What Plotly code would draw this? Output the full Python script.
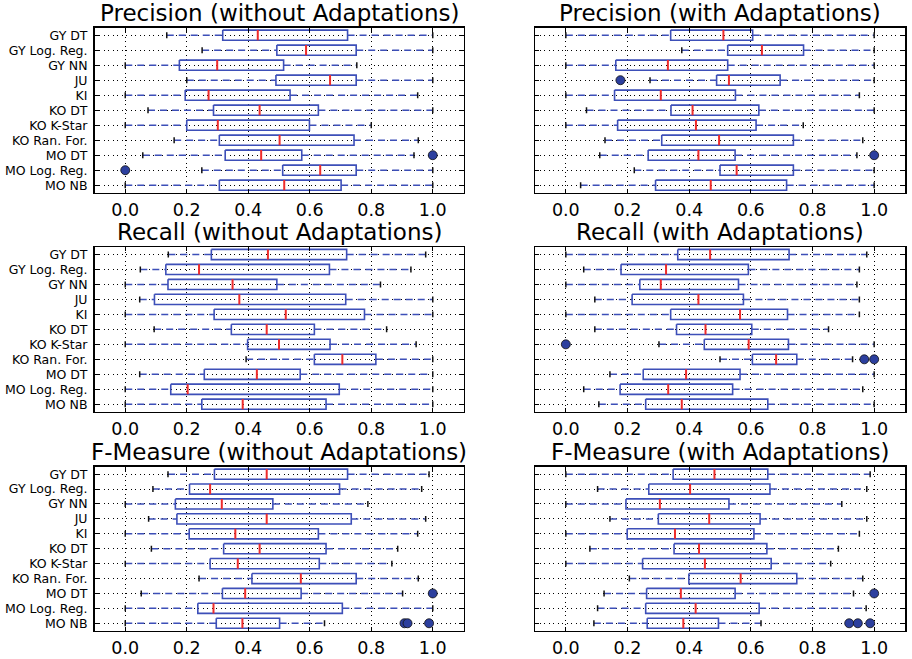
import plotly.graph_objects as go

CATEGORIES = ["GY DT", "GY Log. Reg.", "GY NN", "JU", "KI", "KO DT", "KO K-Star",
              "KO Ran. For.", "MO DT", "MO Log. Reg.", "MO NB"]
X_TICKS = [0.0, 0.2, 0.4, 0.6, 0.8, 1.0]
X_TICK_LABELS = ["0.0", "0.2", "0.4", "0.6", "0.8", "1.0"]

# Precision (without Adaptations)
P_WO_LOW = [0.135, 0.25, 0.0, 0.2, 0.0, 0.074, 0.0, 0.159, 0.057, 0.249, 0.0]
P_WO_Q1 = [0.317, 0.493, 0.176, 0.49, 0.195, 0.287, 0.2, 0.306, 0.325, 0.512, 0.306]
P_WO_MED = [0.431, 0.588, 0.299, 0.666, 0.271, 0.437, 0.301, 0.502, 0.442, 0.634, 0.517]
P_WO_Q3 = [0.723, 0.751, 0.515, 0.751, 0.536, 0.628, 0.599, 0.744, 0.574, 0.751, 0.702]
P_WO_HIGH = [1.0, 1.0, 0.753, 1.0, 0.951, 1.0, 0.8, 0.953, 0.939, 1.0, 1.0]
P_WO_FLIERS = [("MO DT", 1.0), ("MO Log. Reg.", 0.0)]

# Precision (with Adaptations)
P_W_LOW = [0.0, 0.376, 0.0, 0.273, 0.0, 0.067, 0.0, 0.127, 0.11, 0.222, 0.048]
P_W_Q1 = [0.34, 0.525, 0.162, 0.489, 0.158, 0.341, 0.168, 0.311, 0.267, 0.5, 0.291]
P_W_MED = [0.511, 0.636, 0.331, 0.529, 0.308, 0.411, 0.422, 0.497, 0.43, 0.554, 0.47]
P_W_Q3 = [0.606, 0.771, 0.525, 0.695, 0.55, 0.626, 0.617, 0.738, 0.549, 0.738, 0.716]
P_W_HIGH = [1.0, 1.0, 1.0, 1.0, 0.952, 1.0, 0.77, 0.963, 0.944, 1.0, 1.0]
P_W_FLIERS = [("JU", 0.177), ("MO DT", 1.0)]

# Recall (without Adaptations)
R_WO_LOW = [0.14, 0.049, 0.0, 0.047, 0.0, 0.094, 0.0, 0.393, 0.047, 0.0, 0.0]
R_WO_Q1 = [0.28, 0.132, 0.139, 0.095, 0.289, 0.345, 0.398, 0.615, 0.257, 0.148, 0.249]
R_WO_MED = [0.464, 0.24, 0.349, 0.371, 0.522, 0.46, 0.5, 0.706, 0.428, 0.203, 0.382]
R_WO_Q3 = [0.72, 0.664, 0.493, 0.717, 0.778, 0.615, 0.666, 0.815, 0.569, 0.696, 0.653]
R_WO_HIGH = [0.977, 0.929, 0.83, 1.0, 1.0, 0.85, 0.946, 1.0, 1.0, 1.0, 1.0]
R_WO_FLIERS = []

# Recall (with Adaptations)
R_W_LOW = [0.0, 0.058, 0.0, 0.094, 0.0, 0.094, 0.302, 0.5, 0.143, 0.058, 0.107]
R_W_Q1 = [0.363, 0.179, 0.24, 0.215, 0.34, 0.359, 0.449, 0.605, 0.251, 0.176, 0.259]
R_W_MED = [0.468, 0.325, 0.308, 0.43, 0.565, 0.453, 0.593, 0.682, 0.39, 0.332, 0.376]
R_W_Q3 = [0.724, 0.592, 0.56, 0.576, 0.719, 0.603, 0.722, 0.749, 0.565, 0.541, 0.655]
R_W_HIGH = [0.976, 0.952, 0.944, 0.952, 0.952, 0.852, 1.0, 0.93, 1.0, 0.963, 1.0]
R_W_FLIERS = [("KO K-Star", 0.0), ("KO Ran. For.", 0.968), ("KO Ran. For.", 1.0)]

# F-Measure (without Adaptations)
F_WO_LOW = [0.139, 0.09, 0.0, 0.076, 0.0, 0.085, 0.0, 0.24, 0.052, 0.0, 0.0]
F_WO_Q1 = [0.29, 0.209, 0.163, 0.168, 0.208, 0.32, 0.276, 0.412, 0.316, 0.236, 0.296]
F_WO_MED = [0.46, 0.276, 0.314, 0.46, 0.358, 0.437, 0.366, 0.571, 0.39, 0.287, 0.381]
F_WO_Q3 = [0.723, 0.697, 0.48, 0.735, 0.628, 0.653, 0.631, 0.751, 0.572, 0.706, 0.502]
F_WO_HIGH = [0.988, 0.964, 0.789, 0.977, 0.951, 0.886, 0.867, 0.953, 0.902, 1.0, 0.648]
F_WO_FLIERS = [("MO DT", 1.0), ("MO NB", 0.908), ("MO NB", 0.918), ("MO NB", 0.988)]

# F-Measure (with Adaptations)
F_W_LOW = [0.0, 0.103, 0.0, 0.143, 0.0, 0.078, 0.0, 0.206, 0.124, 0.103, 0.091]
F_W_Q1 = [0.348, 0.269, 0.195, 0.3, 0.199, 0.351, 0.249, 0.399, 0.262, 0.259, 0.264]
F_W_MED = [0.482, 0.403, 0.305, 0.465, 0.354, 0.432, 0.451, 0.567, 0.373, 0.421, 0.381]
F_W_Q3 = [0.655, 0.662, 0.529, 0.63, 0.61, 0.652, 0.666, 0.749, 0.549, 0.627, 0.495]
F_W_HIGH = [0.987, 0.976, 0.895, 0.976, 0.952, 0.884, 0.859, 0.963, 0.933, 0.974, 0.633]
F_W_FLIERS = [("MO DT", 1.0), ("MO NB", 0.919), ("MO NB", 0.947), ("MO NB", 0.987)]

PANELS = [
    ("Precision (without Adaptations)", P_WO_LOW, P_WO_Q1, P_WO_MED, P_WO_Q3, P_WO_HIGH, P_WO_FLIERS),
    ("Precision (with Adaptations)", P_W_LOW, P_W_Q1, P_W_MED, P_W_Q3, P_W_HIGH, P_W_FLIERS),
    ("Recall (without Adaptations)", R_WO_LOW, R_WO_Q1, R_WO_MED, R_WO_Q3, R_WO_HIGH, R_WO_FLIERS),
    ("Recall (with Adaptations)", R_W_LOW, R_W_Q1, R_W_MED, R_W_Q3, R_W_HIGH, R_W_FLIERS),
    ("F-Measure (without Adaptations)", F_WO_LOW, F_WO_Q1, F_WO_MED, F_WO_Q3, F_WO_HIGH, F_WO_FLIERS),
    ("F-Measure (with Adaptations)", F_W_LOW, F_W_Q1, F_W_MED, F_W_Q3, F_W_HIGH, F_W_FLIERS),
]

W, H = 912, 659
X_DOMAINS = [[94.5 / W, 463.5 / W], [535.0 / W, 905.0 / W]]
Y_DOMAINS = [[1 - 192.7 / H, 1 - 27.7 / H], [1 - 411.7 / H, 1 - 247.0 / H], [1 - 630.7 / H, 1 - 466.7 / H]]

BLUE = "#3d4fb8"
RED = "#ee2c2c"
FONT = "DejaVu Sans"
HALF_BOX = 0.34
HALF_CAP = 0.2

fig = go.Figure()
annotations = []
for p, (title, low, q1, med, q3, high, fliers) in enumerate(PANELS):
    row, col = divmod(p, 2)
    n = p + 1
    xa = "x" if n == 1 else f"x{n}"
    ya = "y" if n == 1 else f"y{n}"
    wx, wy, cx, cy, bx, by, mx, my = [], [], [], [], [], [], [], []
    for i in range(len(CATEGORIES)):
        wx += [low[i], q1[i], None, q3[i], high[i], None]
        wy += [i, i, None, i, i, None]
        cx += [low[i], low[i], None, high[i], high[i], None]
        cy += [i - HALF_CAP, i + HALF_CAP, None, i - HALF_CAP, i + HALF_CAP, None]
        bx += [q1[i], q3[i], q3[i], q1[i], q1[i], None]
        by += [i - HALF_BOX, i - HALF_BOX, i + HALF_BOX, i + HALF_BOX, i - HALF_BOX, None]
        mx += [med[i], med[i], None]
        my += [i - HALF_BOX, i + HALF_BOX, None]
    fig.add_trace(go.Scatter(x=wx, y=wy, mode="lines", xaxis=xa, yaxis=ya, showlegend=False,
                             line=dict(color=BLUE, width=1.5, dash="7px,5px"), hoverinfo="skip"))
    fig.add_trace(go.Scatter(x=cx, y=cy, mode="lines", xaxis=xa, yaxis=ya, showlegend=False,
                             line=dict(color="#111111", width=1.5), hoverinfo="skip"))
    fig.add_trace(go.Scatter(x=bx, y=by, mode="lines", xaxis=xa, yaxis=ya, showlegend=False,
                             line=dict(color=BLUE, width=1.6), hoverinfo="skip"))
    fig.add_trace(go.Scatter(x=mx, y=my, mode="lines", xaxis=xa, yaxis=ya, showlegend=False,
                             line=dict(color=RED, width=2), hoverinfo="skip"))
    if fliers:
        fig.add_trace(go.Scatter(x=[v for _, v in fliers], y=[CATEGORIES.index(c) for c, _ in fliers],
                                 mode="markers", xaxis=xa, yaxis=ya, showlegend=False, hoverinfo="skip",
                                 marker=dict(size=9, color="#2c3f9e", line=dict(color="#111111", width=0.8))))
    axis_common = dict(showline=True, mirror="ticks", linecolor="black", linewidth=1.5,
                       ticks="inside", ticklen=4, tickcolor="black", tickwidth=1,
                       showgrid=True, gridcolor="black", gridwidth=1, griddash="1.2px,3.3px",
                       zeroline=False)
    fig.update_layout({
        ("xaxis" if n == 1 else f"xaxis{n}"): dict(
            domain=X_DOMAINS[col], anchor=ya, range=[-0.1, 1.1],
            tickvals=X_TICKS, ticktext=X_TICK_LABELS, ticklabelstandoff=1,
            tickfont=dict(family=FONT, size=17.5, color="black"), **axis_common),
        ("yaxis" if n == 1 else f"yaxis{n}"): dict(
            domain=Y_DOMAINS[row], anchor=xa, range=[len(CATEGORIES) - 0.5, -0.5],
            tickvals=list(range(len(CATEGORIES))), ticktext=CATEGORIES,
            showticklabels=(col == 0), ticklabelstandoff=3,
            tickfont=dict(family=FONT, size=12.5, color="black"), **axis_common),
    })
    annotations.append(dict(text=title, xref="paper", yref="paper",
                            x=sum(X_DOMAINS[col]) / 2, y=Y_DOMAINS[row][1] + 0.0 / H,
                            xanchor="center", yanchor="bottom", showarrow=False,
                            font=dict(family=FONT, size=23, color="black")))

fig.update_layout(width=W, height=H, margin=dict(l=0, r=0, t=0, b=0),
                  paper_bgcolor="white", plot_bgcolor="white", template="none",
                  annotations=annotations, showlegend=False, hovermode=False)
fig.write_html("out.html", config={"displayModeBar": False, "staticPlot": True},
               post_script="document.body.style.margin='0px';")
